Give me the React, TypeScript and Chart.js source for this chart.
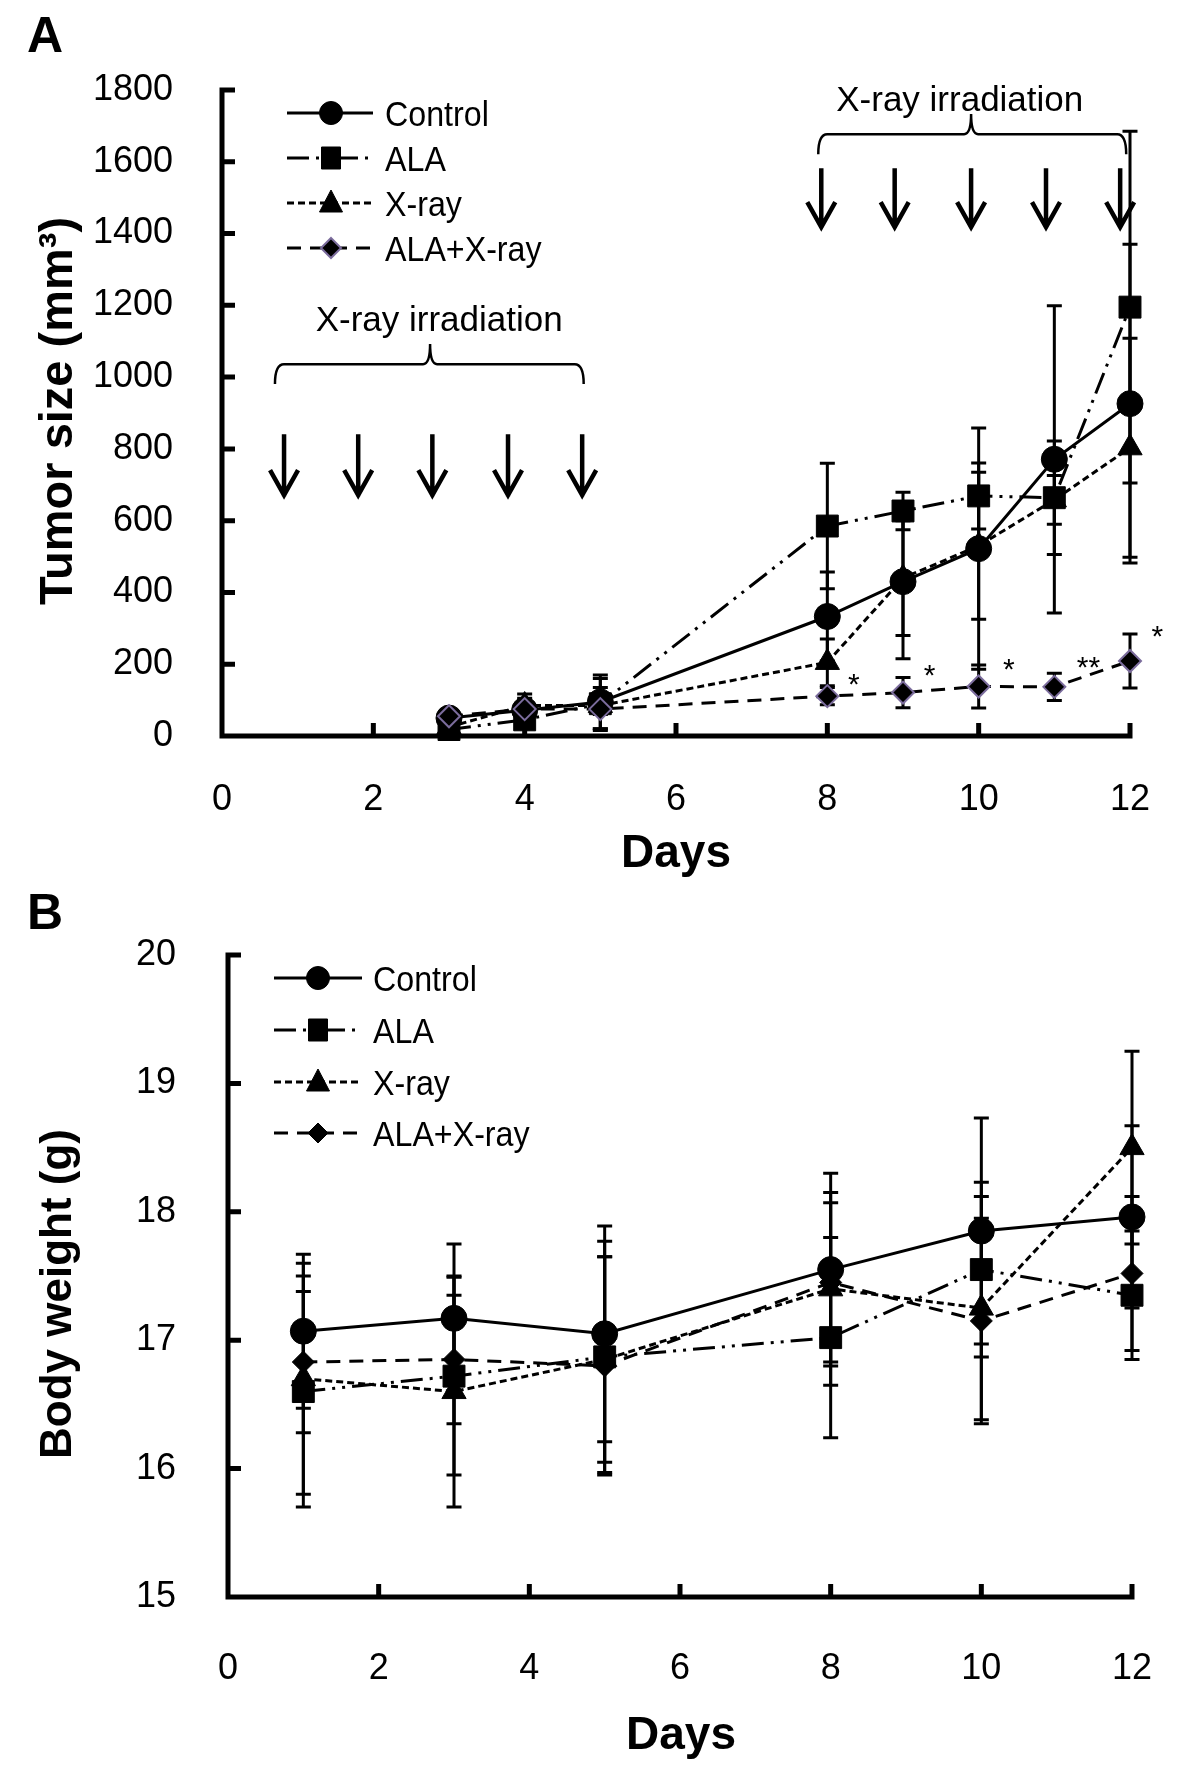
import React, { useEffect, useRef } from 'react';
import { Chart, registerables } from 'chart.js';

Chart.register(...registerables);

const FONT = '"Liberation Sans", Arial, Helvetica, sans-serif';

// ---------- shared ----------
const seriesNames = ['Control', 'ALA', 'X-ray', 'ALA+X-ray'];
const dayTicks = [0, 2, 4, 6, 8, 10, 12];

// ---------- Panel A: tumor size ----------
const tumorDays = [3, 4, 5, 8, 9, 10, 11, 12];
const tumorControl = [50, 72, 95, 333, 430, 522, 771, 926];
const tumorControlErr = [15, 45, 75, 124, 215, 336, 428, 444];
const tumorALA = [18, 45, 90, 585, 627, 669, 664, 1195];
const tumorALAErr = [10, 15, 70, 175, 52, 92, 158, 490];
const tumorXray = [25, 85, 85, 205, 440, 530, 658, 803];
const tumorXrayErr = [10, 20, 25, 65, 160, 205, 68, 305];
const tumorALAXray = [55, 75, 75, 111, 121, 138, 137, 209];
const tumorALAXrayErr = [15, 25, 60, 24, 42, 60, 38, 75];
const tumorTicks = [0, 200, 400, 600, 800, 1000, 1200, 1400, 1600, 1800];

// irradiation annotations (days / mm3)
const lowerArrowDays = [0.82, 1.8, 2.78, 3.78, 4.76];
const upperArrowDays = [7.92, 8.89, 9.9, 10.89, 11.87];
const starDays = [8.35, 9.35, 10.4, 11.45, 12.36];
const starValues = [164, 189, 206, 212, 298];
const starLabels = ['*', '*', '*', '**', '*'];

// ---------- Panel B: body weight ----------
const weightDays = [1, 3, 5, 8, 10, 12];
const weightControl = [17.07, 17.17, 17.05, 17.55, 17.85, 17.96];
const weightControlErr = [0.6, 0.58, 0.84, 0.75, 0.88, 0.71];
const weightALA = [16.6, 16.72, 16.87, 17.02, 17.55, 17.35];
const weightALAErr = [0.9, 0.77, 0.9, 0.78, 0.68, 0.5];
const weightXray = [16.7, 16.6, 16.85, 17.4, 17.25, 18.5];
const weightXrayErr = [0.9, 0.9, 0.8, 0.75, 0.87, 0.75];
const weightALAXray = [16.83, 16.85, 16.8, 17.45, 17.15, 17.52];
const weightALAXrayErr = [0.55, 0.5, 0.85, 0.62, 0.8, 0.6];
const weightTicks = [15, 16, 17, 18, 19, 20];

type SeriesStyle = {
  dash: number[];
  point: string;
  radius: number;
  border: string;
  borderW: number;
  order: number;
};

const stylesFor = (diamondBorder: string, diamondBW: number): SeriesStyle[] => [
  { dash: [], point: 'circle', radius: 13, border: '#000', borderW: 1, order: 1 },
  { dash: [22, 7, 3, 7, 3, 7], point: 'rect', radius: 15.5, border: '#000', borderW: 1, order: 2 },
  { dash: [7, 4], point: 'triangle', radius: 14, border: '#000', borderW: 1, order: 3 },
  { dash: [14, 9], point: 'rectRot', radius: 11, border: diamondBorder, borderW: diamondBW, order: 0 },
];

interface PanelCfg {
  key: string;
  width: number;
  height: number;
  area: { left: number; top: number; right: number; bottom: number };
  xMin: number;
  xMax: number;
  yMin: number;
  yMax: number;
  xTicks: number[];
  yTicks: number[];
  days: number[];
  values: number[][];
  errors: number[][];
  styles: SeriesStyle[];
  xTickPad: number;
  yTickPad: number;
  letter: { text: string; x: number; y: number };
  yTitle: { text: string; x: number; y: number; size: number };
  xTitle: { text: string; x: number; y: number };
  legend: { rows: number[]; x1: number; x2: number; xm: number; xt: number };
  extra?: (chart: any) => void;
}

function drawLegendMarker(ctx: CanvasRenderingContext2D, st: SeriesStyle, x: number, y: number) {
  ctx.beginPath();
  if (st.point === 'circle') {
    ctx.arc(x, y, 11.5, 0, Math.PI * 2);
  } else if (st.point === 'rect') {
    ctx.rect(x - 9.5, y - 11, 19, 22);
  } else if (st.point === 'triangle') {
    ctx.moveTo(x, y - 13);
    ctx.lineTo(x + 11.5, y + 9);
    ctx.lineTo(x - 11.5, y + 9);
    ctx.closePath();
  } else {
    ctx.moveTo(x, y - 10);
    ctx.lineTo(x + 10, y);
    ctx.lineTo(x, y + 10);
    ctx.lineTo(x - 10, y);
    ctx.closePath();
  }
  ctx.fillStyle = '#000';
  ctx.fill();
  ctx.lineWidth = st.borderW;
  ctx.strokeStyle = st.border;
  ctx.stroke();
}

function decorPlugin(cfg: PanelCfg) {
  return {
    id: 'decor' + cfg.key,
    beforeDatasetsDraw(chart: any) {
      const ctx: CanvasRenderingContext2D = chart.ctx;
      const xs = chart.scales.x;
      const ys = chart.scales.y;
      const a = chart.chartArea;
      ctx.save();
      // error bars
      ctx.strokeStyle = '#000';
      ctx.lineWidth = 3;
      ctx.setLineDash([]);
      chart.data.datasets.forEach((ds: any) => {
        ds.data.forEach((p: any, j: number) => {
          const e = ds.errors[j];
          const x = xs.getPixelForValue(p.x);
          const y1 = ys.getPixelForValue(p.y + e);
          const y2 = ys.getPixelForValue(p.y - e);
          ctx.beginPath();
          ctx.moveTo(x, y1);
          ctx.lineTo(x, y2);
          ctx.moveTo(x - 7.5, y1);
          ctx.lineTo(x + 7.5, y1);
          ctx.moveTo(x - 7.5, y2);
          ctx.lineTo(x + 7.5, y2);
          ctx.stroke();
        });
      });
      // axes and inside tick marks
      ctx.lineWidth = 5;
      ctx.lineCap = 'butt';
      ctx.beginPath();
      ctx.moveTo(a.left, a.top - 2.5);
      ctx.lineTo(a.left, a.bottom + 2.5);
      ctx.moveTo(a.left - 2.5, a.bottom);
      ctx.lineTo(a.right + 2.5, a.bottom);
      cfg.yTicks.forEach((v) => {
        if (v === cfg.yMin) return;
        const y = ys.getPixelForValue(v);
        ctx.moveTo(a.left, y);
        ctx.lineTo(a.left + 13, y);
      });
      cfg.xTicks.forEach((v) => {
        if (v === cfg.xMin) return;
        const x = xs.getPixelForValue(v);
        ctx.moveTo(x, a.bottom);
        ctx.lineTo(x, a.bottom - 13);
      });
      ctx.stroke();
      ctx.restore();
    },
    afterDraw(chart: any) {
      const ctx: CanvasRenderingContext2D = chart.ctx;
      ctx.save();
      ctx.fillStyle = '#000';
      ctx.textBaseline = 'alphabetic';
      // panel letter
      ctx.font = `bold 50px ${FONT}`;
      ctx.textAlign = 'left';
      ctx.fillText(cfg.letter.text, cfg.letter.x, cfg.letter.y);
      // x title
      ctx.font = `bold 46px ${FONT}`;
      ctx.textAlign = 'center';
      ctx.fillText(cfg.xTitle.text, cfg.xTitle.x, cfg.xTitle.y);
      // y title
      ctx.save();
      ctx.translate(cfg.yTitle.x, cfg.yTitle.y);
      ctx.rotate(-Math.PI / 2);
      ctx.font = `bold ${cfg.yTitle.size}px ${FONT}`;
      ctx.textAlign = 'center';
      ctx.fillText(cfg.yTitle.text, 0, 0);
      ctx.restore();
      // legend
      const lg = cfg.legend;
      lg.rows.forEach((y, i) => {
        const st = cfg.styles[i];
        ctx.save();
        ctx.strokeStyle = '#000';
        ctx.lineWidth = 3;
        ctx.setLineDash(st.dash);
        ctx.beginPath();
        ctx.moveTo(lg.x1, y);
        ctx.lineTo(lg.x2, y);
        ctx.stroke();
        ctx.setLineDash([]);
        drawLegendMarker(ctx, st, lg.xm, y);
        ctx.fillStyle = '#000';
        ctx.font = `35px ${FONT}`;
        ctx.textAlign = 'left';
        ctx.translate(lg.xt, y + 12.5);
        ctx.scale(0.92, 1);
        ctx.fillText(seriesNames[i], 0, 0);
        ctx.restore();
      });
      ctx.restore();
      if (cfg.extra) cfg.extra(chart);
    },
  };
}

function drawArrow(ctx: CanvasRenderingContext2D, x: number, yTop: number, yTip: number) {
  ctx.beginPath();
  ctx.moveTo(x, yTop);
  ctx.lineTo(x, yTip - 3);
  ctx.moveTo(x - 14, yTip - 29);
  ctx.lineTo(x, yTip - 4);
  ctx.lineTo(x + 14, yTip - 29);
  ctx.stroke();
}

function drawBrace(ctx: CanvasRenderingContext2D, x0: number, x1: number, xc: number, yLine: number, yEnd: number, yPeak: number) {
  const r = 9;
  const rc = 7;
  ctx.beginPath();
  ctx.moveTo(x0, yEnd);
  ctx.quadraticCurveTo(x0, yLine, x0 + r, yLine);
  ctx.lineTo(xc - rc, yLine);
  ctx.quadraticCurveTo(xc, yLine, xc, yPeak);
  ctx.quadraticCurveTo(xc, yLine, xc + rc, yLine);
  ctx.lineTo(x1 - r, yLine);
  ctx.quadraticCurveTo(x1, yLine, x1, yEnd);
  ctx.stroke();
}

function tumorExtras(chart: any) {
  const ctx: CanvasRenderingContext2D = chart.ctx;
  const xs = chart.scales.x;
  const ys = chart.scales.y;
  const X = (d: number) => xs.getPixelForValue(d);
  const Y = (v: number) => ys.getPixelForValue(v);
  ctx.save();
  ctx.strokeStyle = '#000';
  ctx.fillStyle = '#000';
  ctx.lineWidth = 4.5;
  ctx.lineJoin = 'miter';
  lowerArrowDays.forEach((d) => drawArrow(ctx, X(d), Y(841), Y(660)));
  upperArrowDays.forEach((d) => drawArrow(ctx, X(d), Y(1582), Y(1407)));
  ctx.lineWidth = 2.5;
  drawBrace(ctx, X(0.7), X(4.78), X(2.75), Y(1036), Y(981), Y(1092));
  drawBrace(ctx, X(7.88), X(11.95), X(9.9), Y(1677), Y(1621), Y(1733));
  ctx.font = `35px ${FONT}`;
  ctx.textAlign = 'center';
  ctx.textBaseline = 'alphabetic';
  ctx.fillText('X-ray irradiation', X(2.87), Y(1128));
  ctx.fillText('X-ray irradiation', X(9.75), Y(1742));
  ctx.font = `30px ${FONT}`;
  starDays.forEach((d, i) => {
    ctx.fillText(starLabels[i], X(d), Y(starValues[i]) + 17);
  });
  ctx.restore();
}

function buildChart(canvas: HTMLCanvasElement, cfg: PanelCfg) {
  const datasets = cfg.values.map((vals, i) => {
    const st = cfg.styles[i];
    return {
      label: seriesNames[i],
      data: vals.map((v, j) => ({ x: cfg.days[j], y: v })),
      errors: cfg.errors[i],
      borderColor: '#000',
      backgroundColor: '#000',
      borderWidth: 3,
      borderDash: st.dash,
      pointStyle: st.point,
      pointRadius: st.radius,
      pointHoverRadius: st.radius,
      pointBackgroundColor: '#000',
      pointBorderColor: st.border,
      pointBorderWidth: st.borderW,
      fill: false,
      tension: 0,
      clip: false,
      order: st.order,
    } as any;
  });
  const tickFont = { family: FONT, size: 36 };
  return new Chart(canvas, {
    type: 'line',
    data: { datasets },
    options: {
      animation: false,
      responsive: false,
      maintainAspectRatio: false,
      events: [],
      layout: {
        padding: { left: 0, top: cfg.area.top, right: cfg.width - cfg.area.right, bottom: 0 },
      },
      plugins: {
        legend: { display: false },
        tooltip: { enabled: false },
        title: { display: false },
      },
      scales: {
        x: {
          type: 'linear',
          min: cfg.xMin,
          max: cfg.xMax,
          afterBuildTicks: (s: any) => {
            s.ticks = cfg.xTicks.map((v) => ({ value: v }));
          },
          afterFit: (s: any) => {
            s.height = cfg.height - cfg.area.bottom;
            s.paddingLeft = 0;
            s.paddingRight = 0;
          },
          ticks: {
            font: tickFont,
            color: '#000',
            padding: cfg.xTickPad,
            maxRotation: 0,
            autoSkip: false,
            callback: (v: any) => String(v),
          },
          grid: { display: false, drawTicks: false },
          border: { display: false },
        },
        y: {
          type: 'linear',
          min: cfg.yMin,
          max: cfg.yMax,
          afterBuildTicks: (s: any) => {
            s.ticks = cfg.yTicks.map((v) => ({ value: v }));
          },
          afterFit: (s: any) => {
            s.width = cfg.area.left;
            s.paddingTop = 0;
            s.paddingBottom = 0;
          },
          ticks: {
            font: tickFont,
            color: '#000',
            padding: cfg.yTickPad,
            autoSkip: false,
            callback: (v: any) => String(v),
          },
          grid: { display: false, drawTicks: false },
          border: { display: false },
        },
      },
    } as any,
    plugins: [decorPlugin(cfg) as any],
  });
}

const panelA: PanelCfg = {
  key: 'A',
  width: 1200,
  height: 890,
  area: { left: 222, top: 90, right: 1130, bottom: 736 },
  xMin: 0,
  xMax: 12,
  yMin: 0,
  yMax: 1800,
  xTicks: dayTicks,
  yTicks: tumorTicks,
  days: tumorDays,
  values: [tumorControl, tumorALA, tumorXray, tumorALAXray],
  errors: [tumorControlErr, tumorALAErr, tumorXrayErr, tumorALAXrayErr],
  styles: stylesFor('#7b6c9c', 2),
  xTickPad: 42,
  yTickPad: 49,
  letter: { text: 'A', x: 27, y: 52 },
  yTitle: { text: 'Tumor size (mm³)', x: 72, y: 411, size: 47 },
  xTitle: { text: 'Days', x: 676, y: 867 },
  legend: { rows: [113, 158, 203, 248], x1: 287, x2: 373, xm: 331, xt: 385 },
  extra: tumorExtras,
};

const OFFSET_B = 890;
const panelB: PanelCfg = {
  key: 'B',
  width: 1200,
  height: 895,
  area: { left: 228, top: 955 - OFFSET_B, right: 1132, bottom: 1597 - OFFSET_B },
  xMin: 0,
  xMax: 12,
  yMin: 15,
  yMax: 20,
  xTicks: dayTicks,
  yTicks: weightTicks,
  days: weightDays,
  values: [weightControl, weightALA, weightXray, weightALAXray],
  errors: [weightControlErr, weightALAErr, weightXrayErr, weightALAXrayErr],
  styles: stylesFor('#000', 1),
  xTickPad: 50,
  yTickPad: 52,
  letter: { text: 'B', x: 27, y: 929 - OFFSET_B },
  yTitle: { text: 'Body weight (g)', x: 71, y: 1294 - OFFSET_B, size: 44 },
  xTitle: { text: 'Days', x: 681, y: 1749 - OFFSET_B },
  legend: {
    rows: [978 - OFFSET_B, 1030 - OFFSET_B, 1082 - OFFSET_B, 1133 - OFFSET_B],
    x1: 274,
    x2: 362,
    xm: 318,
    xt: 373,
  },
};

export default function App() {
  const refA = useRef<HTMLCanvasElement | null>(null);
  const refB = useRef<HTMLCanvasElement | null>(null);

  useEffect(() => {
    if (!refA.current || !refB.current) return;
    const a = buildChart(refA.current, panelA);
    const b = buildChart(refB.current, panelB);
    return () => {
      a.destroy();
      b.destroy();
    };
  }, []);

  return (
    <div style={{ position: 'absolute', left: 0, top: 0, width: 1200, height: 1785, background: '#fff' }}>
      <canvas
        ref={refA}
        width={1200}
        height={890}
        style={{ position: 'absolute', left: 0, top: 0, width: 1200, height: 890 }}
      />
      <canvas
        ref={refB}
        width={1200}
        height={895}
        style={{ position: 'absolute', left: 0, top: OFFSET_B, width: 1200, height: 895 }}
      />
    </div>
  );
}
